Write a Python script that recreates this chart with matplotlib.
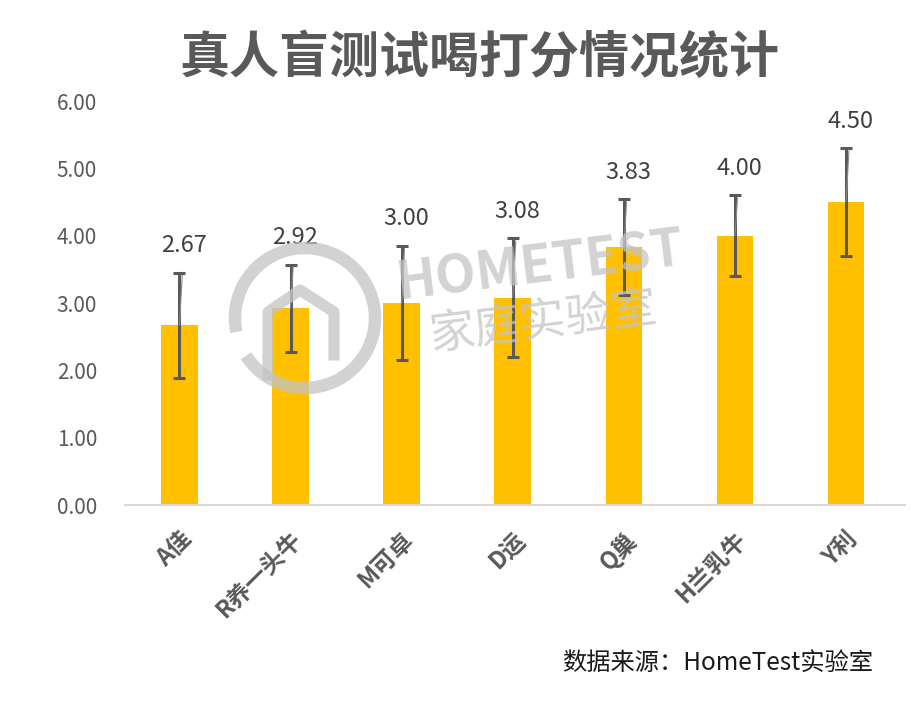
import matplotlib
matplotlib.use('Agg')
from matplotlib import pyplot as plt
from matplotlib.patches import Arc
import numpy as np

plt.rcParams['font.family'] = ['Noto Sans CJK SC', 'DejaVu Sans']

# data
brands = ['A佳', 'R养一头牛', 'M可卓', 'D运', 'Q巢', 'H兰乳牛', 'Y利']
scores = [2.67, 2.92, 3.00, 3.08, 3.83, 4.00, 4.50]
errors = [0.78, 0.65, 0.85, 0.88, 0.71, 0.60, 0.80]
yticks = [0, 1, 2, 3, 4, 5, 6]

fig = plt.figure(figsize=(9.22, 7.02), dpi=100)
ax = fig.add_axes([125 / 922, 197 / 702, 780 / 922, 404 / 702])

x = np.arange(len(brands))
ax.bar(x, scores, width=0.33, color='#FFC000', zorder=2)
ax.errorbar(x, scores, yerr=errors, fmt='none', ecolor='#595959',
            elinewidth=2.2, capsize=4, capthick=2.2, zorder=5)

# labels above the error bar with a thin leader line to the bar top
for i, (v, e) in enumerate(zip(scores, errors)):
    ax.annotate('%.2f' % v, xy=(i, v), xytext=(i + 0.04, v + e + 0.4),
                ha='center', va='center', fontsize=17, color='#404040',
                arrowprops=dict(arrowstyle='-', color='#8c8c8c', lw=0.8,
                                shrinkA=11, shrinkB=0),
                zorder=6)

ax.set_xlim(-0.49, 6.53)
ax.set_ylim(0, 6)
ax.set_yticks(yticks)
ax.set_yticklabels(['%.2f' % t for t in yticks], fontsize=15, color='#595959')
ax.set_xticks(x)
ax.set_xticklabels(brands, rotation=45, ha='right', rotation_mode='anchor',
                   fontsize=17, color='#595959', fontweight='bold')
ax.tick_params(axis='x', length=0, pad=16)
ax.tick_params(axis='y', length=0, pad=20)
for s in ['top', 'right', 'left']:
    ax.spines[s].set_visible(False)
ax.spines['bottom'].set_color('#d9d9d9')
ax.spines['bottom'].set_linewidth(1.5)

# watermark
wm = '#c4c4c4'
fig.text(540 / 922, 1 - 266 / 702, 'HOMETEST', fontsize=38, fontweight='bold',
         color=wm, alpha=0.75, rotation=7, ha='center', va='center', zorder=4)
fig.text(543 / 922, 1 - 322 / 702, '家庭实验室', fontsize=33, color=wm,
         alpha=0.75, rotation=7, ha='center', va='center', zorder=4)
circ = Arc((305 / 922, 1 - 318 / 702), 140 / 922, 140 / 702, theta1=-140, theta2=195,
           transform=fig.transFigure, color=wm, lw=9, alpha=0.75, zorder=4)
fig.add_artist(circ)
hx = np.array([268, 268, 300, 334, 334]) / 922
hy = 1 - np.array([375, 312, 290, 312, 355]) / 702
fig.add_artist(plt.Line2D(hx, hy, transform=fig.transFigure, color=wm, lw=8,
                          alpha=0.75, zorder=4, solid_joinstyle='round'))

fig.text(480 / 922, 1 - 58 / 702, '真人盲测试喝打分情况统计', fontsize=36,
         fontweight='bold', color='#595959', ha='center', va='center')
fig.text(873 / 922, 1 - 663 / 702, '数据来源：HomeTest实验室', fontsize=17.5,
         color='#1a1a1a', ha='right', va='center')

plt.savefig('out.png', dpi=100)
